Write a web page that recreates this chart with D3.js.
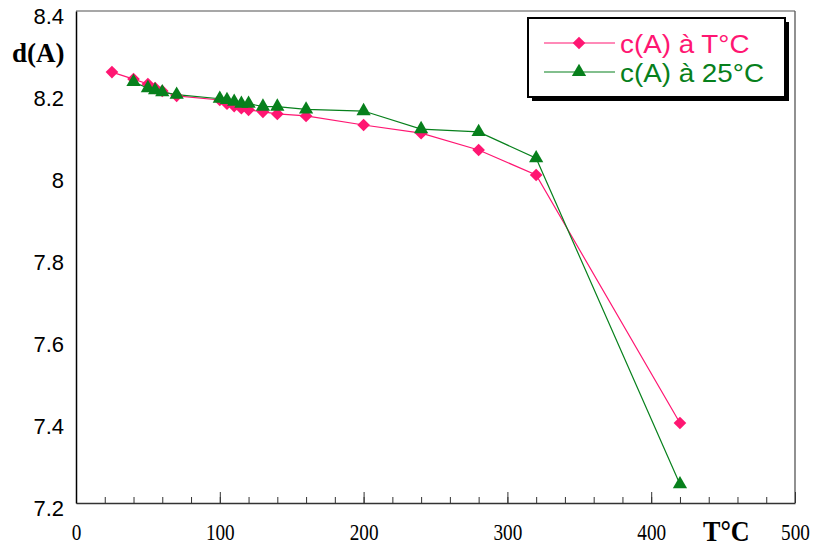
<!DOCTYPE html>
<html>
<head>
<meta charset="utf-8">
<script src="https://cdn.jsdelivr.net/npm/d3@7"></script>
<style>
  html, body { margin: 0; padding: 0; background: #fff; }
  svg { display: block; }
</style>
</head>
<body>
<svg id="chart" width="815" height="546"></svg>
<script>
// ---- data ----
const tempsT = [25, 40, 50, 55, 60, 70, 100, 105, 110, 115, 120, 130, 140, 160, 200, 240, 280, 320, 420];
const valuesT = [8.251, 8.234, 8.222, 8.212, 8.205, 8.193, 8.183, 8.174, 8.168, 8.163, 8.159, 8.154, 8.149, 8.144, 8.122, 8.102, 8.061, 8.000, 7.395];
const temps25 = [40, 50, 55, 60, 70, 100, 105, 110, 115, 120, 130, 140, 160, 200, 240, 280, 320, 420];
const values25 = [8.227, 8.212, 8.207, 8.202, 8.196, 8.186, 8.183, 8.179, 8.174, 8.174, 8.167, 8.167, 8.160, 8.156, 8.112, 8.105, 8.041, 7.246];
const seriesNames = ["c(A) à T°C", "c(A) à 25°C"];
const xMajorTicks = [0, 100, 200, 300, 400, 500];
const xMinorTicks = d3.range(0, 501, 20);
const yTicks = [7.2, 7.4, 7.6, 7.8, 8, 8.2, 8.4];

const pink = "#ff1672";
const green = "#07801c";

const svg = d3.select("#chart");
const L = 76, R = 795, T = 11, B = 503;

const x = d3.scaleLinear().domain([0, 500]).range([L, R]);
const y = d3.scaleLinear().domain([7.2, 8.4]).range([B, T]);

// frame (top and right)
svg.append("line").attr("x1", L).attr("x2", R).attr("y1", T).attr("y2", T)
  .attr("stroke", "#8a8a8a").attr("stroke-width", 1.5);
svg.append("line").attr("x1", R).attr("x2", R).attr("y1", T).attr("y2", B)
  .attr("stroke", "#555").attr("stroke-width", 1.3);

// minor x ticks
const xMinor = svg.append("g").attr("transform", `translate(0,${B})`)
  .call(d3.axisBottom(x).tickValues(xMinorTicks).tickSizeInner(-6).tickSizeOuter(0).tickFormat(""));
xMinor.select(".domain").remove();
xMinor.selectAll("line").attr("stroke", "#333");

// major x ticks + labels
const xAxis = svg.append("g").attr("transform", `translate(0,${B})`)
  .call(d3.axisBottom(x).tickValues(xMajorTicks).tickSizeInner(-11).tickSizeOuter(0).tickFormat(d3.format("d")));
xAxis.select(".domain").attr("stroke", "#333").attr("stroke-width", 1.5);
xAxis.selectAll("line").attr("stroke", "#333");
xAxis.selectAll("text")
  .attr("x", 0).attr("y", 0).attr("dy", 0)
  .attr("fill", "#000")
  .style("font-family", "'Liberation Serif', 'Times New Roman', serif")
  .style("font-size", "24px")
  .attr("text-anchor", "middle")
  .attr("transform", "translate(0,37) scale(0.8,1)");

// y axis
const yAxis = svg.append("g").attr("transform", `translate(${L},0)`)
  .call(d3.axisLeft(y).tickValues(yTicks).tickSize(0).tickPadding(12).tickFormat(d => d3.format("")(d)));
yAxis.select(".domain").attr("stroke", "#000").attr("stroke-width", 1.5);
yAxis.selectAll("text")
  .attr("dy", "0.32em").attr("y", 5)
  .attr("fill", "#000")
  .style("font-family", "'Liberation Sans', Arial, sans-serif")
  .style("font-size", "22px");

// axis titles
svg.append("text").attr("x", 12).attr("y", 62)
  .style("font-family", "'Liberation Serif', 'Times New Roman', serif")
  .style("font-weight", "bold").style("font-size", "27px")
  .text("d(A)");
svg.append("text").attr("transform", "translate(703,541) scale(0.9,1)")
  .style("font-family", "'Liberation Serif', 'Times New Roman', serif")
  .style("font-weight", "bold").style("font-size", "29px")
  .text("T°C");

// lines
const line = d3.line().x(d => x(d[0])).y(d => y(d[1]));
const dataT = tempsT.map((t, i) => [t, valuesT[i]]);
const data25 = temps25.map((t, i) => [t, values25[i]]);

svg.append("path").datum(dataT).attr("d", line)
  .attr("fill", "none").attr("stroke", pink).attr("stroke-width", 1.2);
svg.append("path").datum(data25).attr("d", line)
  .attr("fill", "none").attr("stroke", green).attr("stroke-width", 1.2);

const diamond = d3.symbol().type(d3.symbolSquare).size(80);
const tri = d3.symbol().type(d3.symbolTriangle).size(88);

svg.append("g").selectAll("path").data(dataT).join("path")
  .attr("d", diamond)
  .attr("transform", d => `translate(${x(d[0])},${y(d[1])}) rotate(45)`)
  .attr("fill", pink);
svg.append("g").selectAll("path").data(data25).join("path")
  .attr("d", tri)
  .attr("transform", d => `translate(${x(d[0])},${y(d[1])})`)
  .attr("fill", green);

// legend
const lg = svg.append("g");
lg.append("rect").attr("x", 532).attr("y", 22).attr("width", 257).attr("height", 79).attr("fill", "#000");
lg.append("rect").attr("x", 528).attr("y", 18).attr("width", 257).attr("height", 79)
  .attr("fill", "#fff").attr("stroke", "#000").attr("stroke-width", 2);
const legendItems = [
  {name: seriesNames[0], color: pink, sym: "d", yy: 43},
  {name: seriesNames[1], color: green, sym: "t", yy: 72}
];
legendItems.forEach(it => {
  lg.append("line").attr("x1", 544).attr("x2", 615).attr("y1", it.yy).attr("y2", it.yy)
    .attr("stroke", it.color).attr("stroke-width", 1.2);
  lg.append("path")
    .attr("d", it.sym === "d" ? diamond() : tri())
    .attr("transform", `translate(579,${it.yy})` + (it.sym === "d" ? " rotate(45)" : ""))
    .attr("fill", it.color);
  lg.append("text").attr("transform", `translate(620,${it.yy + 10}) scale(1.07,1)`)
    .attr("fill", it.color)
    .style("font-family", "'Liberation Sans', Arial, sans-serif")
    .style("font-size", "26px")
    .text(it.name);
});
</script>
</body>
</html>
